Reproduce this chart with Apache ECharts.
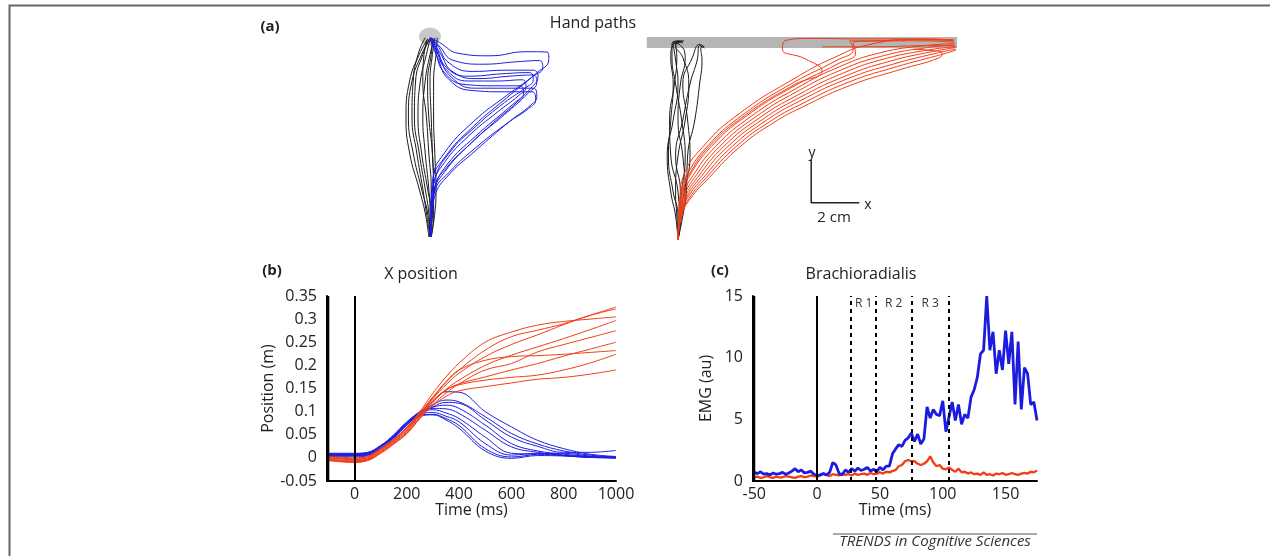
<!DOCTYPE html>
<html>
<head>
<meta charset="utf-8">
<script src="https://cdn.jsdelivr.net/npm/echarts@6.0.0/dist/echarts.min.js"></script>
<style>
  html, body { margin: 0; padding: 0; background: #fff; }
  #chart { width: 1270px; height: 556px; }
</style>
</head>
<body>
<div id="chart"></div>
<script>
// ---- (a) hand paths, cm, origin = start position ----
const circlePos = [0, 8.35]
const barLine = [[-1.3, 8.23], [11.63, 8.23]]
const scaleBar = [[5.55, 3.35], [5.55, 1.55], [7.55, 1.55]]

const leftBlack = [
  [[0,0],[0.05,1],[-0.1,2],[-0.35,3.5],[-0.5,5],[-0.4,6.5],[-0.15,7.6],[0,8.25]],
  [[0,0],[-0.1,1],[-0.35,2],[-0.7,3.5],[-0.9,5],[-0.75,6.5],[-0.35,7.6],[-0.05,8.2]],
  [[0,0],[0.1,1],[0.15,2],[0.1,3.5],[-0.05,5],[-0.1,6.5],[0.05,7.6],[0.1,8.25]],
  [[-0.05,0],[-0.2,1],[-0.45,2],[-0.85,3.5],[-1.0,5],[-0.85,6.5],[-0.45,7.6],[-0.1,8.25]],
  [[0.05,0],[0.15,1],[0.15,2],[0.1,3.5],[0.05,5],[0,6.5],[0.1,7.6],[0.2,8.3]],
  [[0,0],[-0.05,1],[-0.2,2],[-0.45,3.5],[-0.65,5],[-0.6,6.5],[-0.3,7.6],[0,8.3]],
  [[0,0],[0,1],[-0.05,2],[-0.2,3.5],[-0.3,5],[-0.2,6.5],[0,7.6],[0.15,8.2]],
  [[0.05,0],[0.2,1],[0.25,2],[0.2,3.5],[0.15,5],[0.15,6.5],[0.25,7.6],[0.3,8.3]],
  [[0,0],[-0.15,1],[-0.3,2],[-0.55,3.5],[-0.75,5],[-0.7,6.5],[-0.5,7.6],[-0.2,8.3]],
  [[0,0],[0.05,1],[0.05,2],[-0.05,3.5],[-0.15,5],[-0.3,6.5],[-0.25,7.6],[-0.1,8.25]]
]
const leftBlue = [
  [[0,0],[0.05,1.2],[0.1,2.3],[0.6,3.3],[1.8,4.6],[3.2,5.8],[4.4,6.8],[4.95,7.4],[4.9,7.7],[4.0,7.72],[2.5,7.55],[1.2,7.65],[0.4,8.1],[0.05,8.3]],
  [[0.05,0],[0.1,1.2],[0.2,2.0],[0.7,3.0],[1.9,4.2],[3.3,5.4],[4.2,6.2],[4.5,6.7],[4.3,6.95],[3.2,6.95],[1.8,6.9],[0.8,7.25],[0.3,8.0],[0,8.3]],
  [[0,0],[0.1,1],[0.15,1.8],[0.6,2.7],[1.7,3.9],[3.1,5.1],[4.1,6.0],[4.45,6.45],[4.3,6.75],[3.3,6.7],[2.0,6.6],[1.0,6.85],[0.4,7.7],[0.1,8.25]],
  [[0.05,0],[0.05,1.3],[0.2,2.4],[0.8,3.5],[1.9,4.6],[3.1,5.6],[3.95,6.2],[4.3,6.55],[4.15,6.85],[3.0,6.8],[1.6,6.7],[0.7,7.05],[0.25,7.9],[0,8.25]],
  [[0,0],[0.1,1],[0.2,1.7],[0.7,2.5],[1.9,3.6],[3.3,4.8],[4.2,5.5],[4.45,5.85],[4.3,6.2],[3.2,6.2],[1.9,6.2],[0.9,6.65],[0.35,7.6],[0.05,8.3]],
  [[0.05,0],[0.1,1.1],[0.2,1.9],[0.8,2.7],[2.0,3.8],[3.3,4.8],[4.1,5.35],[4.4,5.7],[4.25,6.05],[3.1,6.05],[1.8,6.1],[0.8,6.55],[0.3,7.5],[0,8.25]],
  [[0,0],[0.05,1.2],[0.15,2.2],[0.6,3.1],[1.6,4.2],[2.8,5.2],[3.7,5.9],[4.0,6.25],[3.85,6.55],[2.8,6.5],[1.6,6.5],[0.7,6.95],[0.25,7.8],[0.05,8.3]],
  [[0,0],[0.1,1.2],[0.2,2.1],[0.7,2.9],[1.7,3.9],[2.8,4.9],[3.6,5.6],[3.9,6.0],[3.75,6.3],[2.7,6.3],[1.5,6.35],[0.6,6.85],[0.2,7.8],[0,8.3]],
  [[0.05,0],[0.1,1.3],[0.15,2.5],[0.6,3.5],[1.8,4.8],[3.2,5.9],[4.3,6.7],[4.7,7.05],[4.55,7.35],[3.6,7.3],[2.2,7.2],[1.0,7.35],[0.35,8.0],[0.05,8.3]]
]
const rightBlack = [
  [[0,0],[0,1],[-0.2,2],[-0.4,3.5],[-0.3,5],[-0.2,6.5],[-0.3,7.6],[-0.2,8.15],[0.1,8.25],[0.2,8.2]],
  [[0,0],[0.1,1],[0.1,2],[-0.1,3.5],[0.2,5],[0.5,6.5],[0.8,7.5],[0.9,8.1],[1.1,8.0]],
  [[0,0],[-0.1,1],[-0.3,2],[-0.45,3.5],[-0.2,5],[0,6.5],[-0.1,7.5],[-0.2,8.2],[0.15,8.28]],
  [[0,0],[0.2,1],[0.35,2],[0.4,3.5],[0.7,5],[0.9,6.5],[1.0,7.5],[0.95,8.0],[1.05,8.05]],
  [[0,0],[0.05,1],[0,2],[-0.3,3.5],[-0.35,5],[-0.15,6.5],[-0.05,7.6],[-0.1,8.2],[0.25,8.3]],
  [[0,0],[0.15,1],[0.3,2],[0.2,3.5],[0,5],[0.1,6.5],[0.3,7.6],[0.05,8.15],[-0.2,8.2]],
  [[0,0],[0.1,1],[0.25,2],[0.5,3.5],[0.4,5],[0.2,6.5],[0.6,7.6],[0.9,8.15],[1.1,8.05]],
  [[0,0],[-0.05,1],[-0.1,2],[0,3.5],[0.3,5],[0.45,6.5],[0.2,7.6],[-0.1,8.1],[0.2,8.25]],
  [[0,0],[0.05,1],[0.15,2],[0.3,3.5],[0.15,5],[-0.1,6.5],[-0.25,7.6],[-0.25,8.2],[0.05,8.3]]
]
const rightRed = [
  [[0,0],[0.03,1],[0.1,2],[0.2,2.6],[1.05,3.9],[2.6,5.3],[4.8,6.7],[6.5,7.6],[8.0,8.15],[10,8.35],[11.5,8.35]],
  [[0,0],[0.04,1],[0.14,1.97],[0.32,2.6],[1.22,3.9],[2.76,5.26],[4.83,6.57],[6.58,7.47],[7.3,7.95],[7.15,8.3],[7.6,8.3],[10.1,8.35],[11.5,8.3]],
  [[0,0],[0.06,1],[0.19,1.93],[0.44,2.6],[1.39,3.9],[2.91,5.21],[4.87,6.43],[6.66,7.34],[7.4,7.8],[7.3,8.2],[7.7,8.28],[10.2,8.3],[11.52,8.24]],
  [[0,0],[0.07,1],[0.23,1.9],[0.57,2.6],[1.57,3.9],[3.07,5.17],[4.9,6.3],[6.73,7.22],[8.42,7.8],[10.3,8.1],[11.53,8.18]],
  [[0,0],[0.08,1],[0.28,1.87],[0.69,2.6],[1.74,3.9],[3.22,5.12],[4.93,6.17],[6.81,7.09],[8.56,7.68],[10.4,8.02],[11.54,8.13]],
  [[0,0],[0.1,1],[0.32,1.83],[0.81,2.6],[1.91,3.9],[3.38,5.08],[4.97,6.03],[6.89,6.96],[8.69,7.57],[10.5,7.93],[11.56,8.07],[10.5,8.1],[8.2,8.05],[6.0,8.05]],
  [[0,0],[0.11,1],[0.37,1.8],[0.93,2.6],[2.08,3.9],[3.53,5.03],[5.0,5.9],[6.97,6.83],[8.83,7.45],[10.6,7.85],[11.57,8.02]],
  [[0,0],[0.12,1],[0.41,1.77],[1.06,2.6],[2.26,3.9],[3.69,4.99],[5.03,5.77],[7.04,6.71],[8.97,7.33],[10.7,7.77],[11.58,7.96]],
  [[0,0],[0.14,1],[0.46,1.73],[1.18,2.6],[2.43,3.9],[3.84,4.94],[5.07,5.63],[7.12,6.58],[9.11,7.22],[10.8,7.68],[11.59,7.91]],
  [[0,0],[0.15,1],[0.5,1.7],[1.3,2.6],[2.6,3.9],[4.0,4.9],[5.1,5.5],[7.2,6.45],[9.25,7.1],[10.9,7.6],[11.0,7.8],[10.5,7.9],[9.8,7.95]],
  [[0,0],[0.05,1],[0.17,2],[0.45,2.7],[1.3,3.9],[2.8,5.2],[4.8,6.45],[6.0,7.05],[5.3,7.55],[4.35,7.95],[4.5,8.32],[5.5,8.4],[7.5,8.38],[10.5,8.38],[11.5,8.3]]
]

// ---- (b) x position (m) ----
const posTime = [-100, 0, 50, 100, 150, 200, 250, 300, 350, 400, 500, 600, 700, 800, 900, 1000]
const posRed = [
  [0.002,-0.002,0.003,0.02,0.04,0.066,0.1,0.14,0.175,0.205,0.25,0.272,0.287,0.295,0.3,0.305],
  [-0.002,-0.006,-0.002,0.015,0.035,0.06,0.095,0.13,0.163,0.19,0.233,0.262,0.276,0.29,0.308,0.322],
  [0,-0.004,0,0.018,0.038,0.063,0.095,0.128,0.158,0.183,0.219,0.245,0.266,0.288,0.308,0.326],
  [-0.004,-0.008,-0.004,0.012,0.032,0.055,0.088,0.12,0.148,0.168,0.2,0.222,0.24,0.258,0.277,0.297],
  [0.003,0,0.003,0.02,0.04,0.064,0.098,0.132,0.165,0.19,0.211,0.219,0.221,0.224,0.228,0.232],
  [-0.006,-0.01,-0.005,0.01,0.03,0.052,0.085,0.115,0.14,0.16,0.19,0.204,0.229,0.245,0.26,0.275],
  [-0.003,-0.007,-0.003,0.014,0.034,0.058,0.09,0.122,0.146,0.16,0.175,0.19,0.204,0.22,0.235,0.25],
  [0.001,-0.003,0.001,0.017,0.036,0.06,0.092,0.124,0.147,0.158,0.168,0.174,0.179,0.19,0.205,0.224],
  [-0.005,-0.009,-0.006,0.01,0.03,0.053,0.085,0.113,0.133,0.145,0.154,0.162,0.17,0.174,0.181,0.19]
]
const posBlue = [
  [0.008,0.008,0.01,0.025,0.045,0.072,0.098,0.122,0.143,0.142,0.1,0.067,0.038,0.02,0.008,0.003],
  [0.006,0.006,0.008,0.022,0.043,0.07,0.096,0.115,0.125,0.121,0.089,0.053,0.03,0.015,0.006,0.002],
  [0.004,0.004,0.006,0.02,0.04,0.066,0.092,0.11,0.12,0.118,0.082,0.045,0.025,0.012,0.012,0.016],
  [0.01,0.01,0.012,0.027,0.048,0.075,0.1,0.11,0.114,0.107,0.071,0.031,0.015,0.008,0.003,0],
  [0.007,0.007,0.009,0.024,0.046,0.074,0.098,0.107,0.106,0.096,0.06,0.024,0.012,0.005,0.001,0],
  [0.009,0.009,0.011,0.026,0.05,0.078,0.098,0.104,0.097,0.085,0.045,0.01,0.008,0.005,0.002,0.001],
  [0.005,0.005,0.008,0.024,0.048,0.076,0.094,0.098,0.09,0.078,0.031,0.006,0.01,0.006,0.002,0],
  [0.003,0.002,0.005,0.02,0.044,0.072,0.09,0.093,0.082,0.064,0.015,-0.001,0.005,0.004,0.001,0],
  [0.008,0.007,0.01,0.025,0.047,0.075,0.092,0.094,0.085,0.07,0.02,0.002,0.008,0.01,0.004,0.002]
]
const posXTicks = [0, 200, 400, 600, 800, 1000]
const posXRange = [-105, 1000], posYRange = [-0.05, 0.35]
const posStart = -100

// ---- (c) brachioradialis EMG ----
const emgTime = [-50,-47.5,-45,-42.5,-40,-37.5,-35,-32.5,-30,-27.5,-25,-22.5,-20,-17.5,-15,-12.5,-10,-7.5,-5,-2.5,
  0,2.5,5,7.5,10,12.5,15,17.5,20,22.5,25,27.5,30,32.5,35,37.5,40,42.5,45,47.5,50,52.5,55,57.5,60,62.5,65,67.5,
  70,72.5,75,77.5,80,82.5,85,87.5,90,92.5,95,97.5,100,102.5,105,107.5,110,112.5,115,117.5,120,122.5,125,127.5,
  130,132.5,135,137.5,140,142.5,145,147.5,150,152.5,155,157.5,160,162.5,165,167.5,170,172.5,175]
const emgBlue = [0.7,0.6,0.75,0.55,0.6,0.5,0.65,0.55,0.6,0.7,0.55,0.65,0.8,1.0,0.75,0.9,0.65,0.7,0.8,0.55,
  0.45,0.5,0.6,0.5,0.7,1.5,1.3,0.6,0.5,0.9,0.7,1.0,0.8,1.05,0.85,0.95,1.1,0.8,0.95,0.75,1.1,0.9,1.2,
  1.2,2.2,2.6,2.95,2.8,3.3,3.5,3.9,3.2,3.8,3.0,3.4,6.0,5.1,5.8,5.4,5.3,6.5,4.0,5.2,6.4,4.9,6.2,4.6,5.4,5.1,
  6.8,7.4,8.4,10.3,10.6,15.0,10.6,12.1,8.7,10.6,9.0,12.2,9.5,12.1,6.2,11.3,5.8,9.2,8.7,6.2,6.4,4.9]
const emgRed = [0.3,0.35,0.25,0.3,0.4,0.3,0.25,0.35,0.3,0.3,0.4,0.35,0.3,0.25,0.35,0.4,0.3,0.35,0.45,0.4,0.35,
  0.45,0.6,0.5,0.4,0.55,0.5,0.45,0.6,0.5,0.55,0.45,0.6,0.5,0.55,0.6,0.5,0.65,0.55,0.6,0.7,0.6,0.75,0.7,
  0.8,0.9,1.2,1.3,1.6,1.7,1.6,1.6,1.4,1.3,1.4,1.6,2.0,1.5,1.2,1.3,1.0,0.95,1.1,0.9,0.75,1.0,0.7,0.75,0.6,0.7,
  0.55,0.6,0.5,0.7,0.5,0.55,0.45,0.6,0.55,0.65,0.5,0.55,0.65,0.55,0.5,0.6,0.65,0.6,0.75,0.7,0.85]
const epochEdges = [27, 47, 75, 105]
const epochNames = ['R 1', 'R 2', 'R 3']
const emgXTicks = [-50, 0, 50, 100, 150]
const emgXRange = [-51, 175], emgYRange = [0, 15]
const emgStart = -50

const FONT = 'Open Sans'
const RED = '#f23c14', BLUE = '#1c1ce0', BLACK = '#1a1a1a'

const chart = echarts.init(document.getElementById('chart'), null, { renderer: 'canvas' })

function paths(list, color, gi, z) {
  return list.map(p => ({ type: 'line', xAxisIndex: gi, yAxisIndex: gi, data: p, smooth: 0.5,
    symbol: 'none', lineStyle: { color, width: 1 }, z, silent: true }))
}
function traces(rows, color) {
  return rows.map(r => ({ type: 'line', xAxisIndex: 2, yAxisIndex: 2, smooth: 0.4, symbol: 'none',
    data: posTime.map((t, i) => [t, r[i]]), lineStyle: { color, width: 1 }, silent: true }))
}
// left spine at the start of the record (a line sitting exactly on the axis min is not drawn)
function spine(gi, x0, yr) {
  return { type: 'line', xAxisIndex: gi, yAxisIndex: gi, data: [[x0, yr[0]], [x0, yr[1]]], symbol: 'none',
    clip: false, silent: true, z: 10, lineStyle: { color: '#000', width: 2 } }
}
const hidden = (gi, min, max) => ({ type: 'value', gridIndex: gi, min, max, show: false })
const lbl = { color: '#222', fontFamily: FONT, fontSize: 16 }
const nameStyle = { color: '#222', fontFamily: FONT, fontSize: 16 }
const axLine = () => ({ show: true, onZero: false, lineStyle: { color: '#000', width: 2 } })

const zeroLine = { symbol: 'none', silent: true, label: { show: false },
  lineStyle: { color: '#000', width: 2, type: 'solid' }, data: [{ xAxis: 0 }] }

const texts = [
  ['(a)', 270, 27, 'bold', 15], ['Hand paths', 593, 23, 'normal', 16],
  ['(b)', 272, 271, 'bold', 15], ['X position', 421, 274, 'normal', 16],
  ['(c)', 720, 271, 'bold', 15], ['Brachioradialis', 861, 274, 'normal', 16],
  ['y', 812, 153, 'normal', 14], ['x', 868, 205, 'normal', 14], ['2 cm', 834, 218, 'normal', 15]
]

chart.setOption({
  animation: false,
  grid: [
    { left: 382, top: 21, width: 192, height: 240 },
    { left: 630, top: 24, width: 336, height: 240 },
    { left: 327, top: 296, width: 289, height: 185 },
    { left: 753, top: 296, width: 284, height: 185 }
  ],
  xAxis: [
    hidden(0, -2, 6), hidden(1, -2, 12),
    { type: 'value', gridIndex: 2, min: posXRange[0], max: posXRange[1], name: 'Time (ms)', nameLocation: 'middle', nameGap: 20,
      nameTextStyle: nameStyle, axisLine: axLine(), axisTick: { show: false }, splitLine: { show: false },
      axisLabel: { ...lbl, margin: 5, customValues: posXTicks, formatter: v => String(v) } },
    { type: 'value', gridIndex: 3, min: emgXRange[0], max: emgXRange[1], name: 'Time (ms)', nameLocation: 'middle', nameGap: 21,
      nameTextStyle: nameStyle, axisLine: axLine(), axisTick: { show: false }, splitLine: { show: false },
      axisLabel: { ...lbl, margin: 5, customValues: emgXTicks, formatter: v => String(v) } }
  ],
  yAxis: [
    hidden(0, -1, 9), hidden(1, -1, 9),
    { type: 'value', gridIndex: 2, min: posYRange[0], max: posYRange[1], interval: 0.05, name: 'Position (m)', nameLocation: 'middle',
      nameGap: 48, nameTextStyle: nameStyle, axisLine: axLine(), axisTick: { show: false }, splitLine: { show: false },
      axisLabel: { ...lbl, margin: 10 } },
    { type: 'value', gridIndex: 3, min: emgYRange[0], max: emgYRange[1], interval: 5, name: 'EMG (au)', nameLocation: 'middle',
      nameGap: 39, nameTextStyle: nameStyle, axisLine: axLine(), axisTick: { show: false }, splitLine: { show: false },
      axisLabel: { ...lbl, margin: 10 } }
  ],
  series: [
    { type: 'scatter', xAxisIndex: 0, yAxisIndex: 0, data: [circlePos], symbolSize: [22, 18],
      itemStyle: { color: '#b9b9b9' }, z: 1, silent: true },
    ...paths(leftBlack, BLACK, 0, 2),
    ...paths(leftBlue, BLUE, 0, 3),
    { type: 'line', xAxisIndex: 1, yAxisIndex: 1, data: barLine, symbol: 'none', silent: true,
      lineStyle: { color: '#b5b5b5', width: 11, cap: 'butt' }, z: 1 },
    ...paths(rightBlack, BLACK, 1, 2),
    ...paths(rightRed, RED, 1, 3),
    { type: 'line', xAxisIndex: 1, yAxisIndex: 1, data: scaleBar, symbol: 'none', silent: true,
      lineStyle: { color: '#222', width: 1.5 }, z: 3 },
    ...traces(posBlue, BLUE),
    ...traces(posRed, RED),
    { type: 'line', xAxisIndex: 2, yAxisIndex: 2, data: [], markLine: zeroLine },
    spine(2, posStart, posYRange),
    { type: 'line', xAxisIndex: 3, yAxisIndex: 3, symbol: 'none', silent: true,
      data: emgTime.map((t, i) => [t, emgRed[i]]), lineStyle: { color: RED, width: 2.3 }, z: 3 },
    { type: 'line', xAxisIndex: 3, yAxisIndex: 3, symbol: 'none', silent: true,
      data: emgTime.map((t, i) => [t, emgBlue[i]]), lineStyle: { color: BLUE, width: 2.8 }, z: 4,
      markLine: zeroLine },
    spine(3, emgStart, emgYRange),
    { type: 'line', xAxisIndex: 3, yAxisIndex: 3, data: [], silent: true,
      markLine: { symbol: 'none', silent: true, label: { show: false },
        lineStyle: { color: '#000', width: 2, type: [4, 4] }, data: epochEdges.map(x => ({ xAxis: x })) },
      markArea: { silent: true, itemStyle: { color: 'transparent' },
        label: { position: 'insideTop', distance: 2, color: '#333', fontFamily: FONT, fontSize: 12 },
        data: epochNames.map((n, i) => [{ xAxis: epochEdges[i], name: n }, { xAxis: epochEdges[i + 1] }]) } }
  ],
  graphic: [
    { type: 'polyline', shape: { points: [[9.5, 556], [9.5, 5.5], [1270, 5.5]] }, style: { stroke: '#666', lineWidth: 2, fill: 'none' } },
    { type: 'line', shape: { x1: 833, y1: 534, x2: 1037, y2: 534 }, style: { stroke: '#555', lineWidth: 1 } },
    { type: 'text', x: 935, y: 542, style: { text: 'TRENDS in Cognitive Sciences', fontFamily: FONT,
      fontStyle: 'italic', fontSize: 15, fill: '#333', textAlign: 'center', textVerticalAlign: 'middle' } },
    ...texts.map(([t, x, y, w, s]) => ({ type: 'text', x, y, style: { text: t, fontFamily: FONT, fontWeight: w,
      fontSize: s, fill: '#222', textAlign: 'center', textVerticalAlign: 'middle' } }))
  ]
})
window.addEventListener('resize', () => chart.resize())
</script>
</body>
</html>
